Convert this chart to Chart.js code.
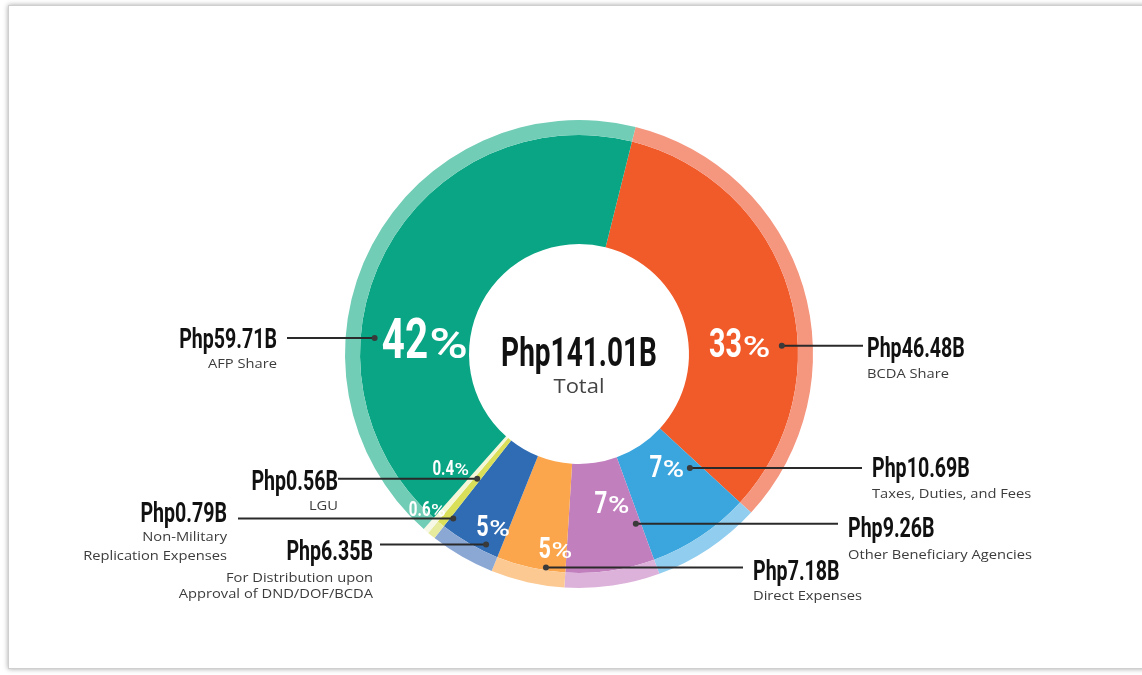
<!DOCTYPE html>
<html>
<head>
<meta charset="utf-8">
<title>Php141.01B Total</title>
<script src="https://cdn.jsdelivr.net/npm/chart.js@4/dist/chart.umd.min.js"></script>
<style>
  html, body { margin: 0; padding: 0; background: #fff; overflow: hidden; }
  .frame {
    position: absolute; left: 8px; top: 5px; width: 1150px; height: 662px;
    border: 1px solid #cfcfcf; box-shadow: 0 0 5px rgba(0,0,0,0.35); background: #fff;
  }
  #chart { position: absolute; left: 0; top: 0; }
</style>
</head>
<body>
<div class="frame"></div>
<canvas id="chart" width="1142" height="675"></canvas>
<script>
// ── Data (clockwise, starting at the AFP/BCDA boundary) ─────────────
const categories = ['BCDA Share', 'Taxes, Duties, and Fees', 'Other Beneficiary Agencies', 'Direct Expenses',
  'For Distribution upon Approval of DND/DOF/BCDA', 'Non-Military Replication Expenses', 'LGU', 'AFP Share'];
const amounts = [46.48, 10.69, 9.26, 7.18, 6.35, 0.79, 0.56, 59.71];   // Php billions
const pctLabels = ['33%', '7%', '7%', '5%', '5%', '0.6%', '0.4%', '42%'];
const valueLabels = ['Php46.48B', 'Php10.69B', 'Php9.26B', 'Php7.18B', 'Php6.35B', 'Php0.79B', 'Php0.56B', 'Php59.71B'];
const descLines = [
  ['BCDA Share'],
  ['Taxes, Duties, and Fees'],
  ['Other Beneficiary Agencies'],
  ['Direct Expenses'],
  ['For Distribution upon', 'Approval of DND/DOF/BCDA'],
  ['Non-Military', 'Replication Expenses'],
  ['LGU'],
  ['AFP Share']
];
const totalLabel = 'Php141.01B';
const totalCaption = 'Total';

// ── Colours ─────────────────────────────────────────────────────────
const COLORS = ['#f15a29', '#3ba5de', '#c17fbe', '#fba64c', '#2f6cb3', '#d9df59', '#f4f6d8', '#0aa584'];
const LIGHT  = ['#f5967f', '#90cdee', '#dcb1da', '#fcc993', '#8ba8d5', '#e7eb9e', '#f7f8e6', '#71cdb6'];

// ── Annotation layout (polar: deg clockwise from top, px from centre) ──
// pct: [angle, radius, digit font size]; dot: leader end; callout text position
const LAYOUT = [
  { pct: [86.1, 161, 40],   dot: [87.7, 203],  side: 'R', lineX: 863, textX: 867, textY: 357, descY: [378] },
  { pct: [141.8, 142, 31],  dot: [135.8, 159], side: 'R', lineX: 862, textX: 872, textY: 477, descY: [498] },
  { pct: [167.5, 152, 31],  dot: [161.5, 179], side: 'R', lineX: 838, textX: 848, textY: 537, descY: [559] },
  { pct: [187, 195, 30],    dot: [188.8, 216], side: 'R', lineX: 743, textX: 753, textY: 580, descY: [600] },
  { pct: [206.6, 192, 30],  dot: [206, 212],   side: 'L', lineX: 380, textX: 373, textY: 560, descY: [582, 598] },
  { pct: [224.4, 217, 21],  dot: [217.4, 207], side: 'L', lineX: 238, textX: 227, textY: 522, descY: [541, 560] },
  { pct: [228.6, 171, 21],  dot: [219.2, 161], side: 'L', lineX: 338, textX: 338, textY: 490, descY: [510] },
  { pct: [275.9, 155, 56],  dot: [274.5, 205], side: 'L', lineX: 287, textX: 277, textY: 348, descY: [368] }
];

const CONDENSE = 0.70;
const BIG_FONT = 'Roboto, "Liberation Sans", sans-serif';
const SMALL_FONT = '"Open Sans", "DejaVu Sans", sans-serif';

function polar(cx, cy, deg, r) {
    const a = deg * Math.PI / 180;
    return { x: cx + r * Math.sin(a), y: cy - r * Math.cos(a) };
}

// draw text squeezed / stretched horizontally by sx
function drawScaled(ctx, text, x, y, font, align, sx) {
    ctx.save();
    ctx.font = font;
    const w = ctx.measureText(text).width * sx;
    let left = x;
    if (align === 'right') left = x - w;
    else if (align === 'center') left = x - w / 2;
    ctx.translate(left, y);
    ctx.scale(sx, 1);
    ctx.textAlign = 'left';
    ctx.fillText(text, 0, 0);
    ctx.restore();
    return w;
}

const bold = size => `bold ${size}px ${BIG_FONT}`;
const medium = size => `500 ${size}px ${BIG_FONT}`;

function drawPct(ctx, text, cx, cy, size) {
    const num = text.replace('%', '');
    const pSize = size * 0.75, pScale = 1.25;
    ctx.font = bold(size);
    const wNum = ctx.measureText(num).width * 0.72;
    ctx.font = medium(pSize);
    const wP = ctx.measureText('%').width * pScale;
    const gap = size * 0.02;
    const left = cx - (wNum + gap + wP) / 2;
    const base = cy + size * 0.71 / 2;
    drawScaled(ctx, num, left, base, bold(size), 'left', 0.72);
    drawScaled(ctx, '%', left + wNum + gap, base, medium(pSize), 'left', pScale);
}

const calloutPlugin = {
    id: 'callouts',
    afterDatasetsDraw(chart) {
        const ctx = chart.ctx;
        const meta = chart.getDatasetMeta(1);
        const cx = meta.data[0].x, cy = meta.data[0].y;

        ctx.save();
        ctx.textBaseline = 'alphabetic';

        // Centre total
        ctx.fillStyle = '#111';
        drawScaled(ctx, totalLabel, cx, cy + 12, bold(40), 'center', CONDENSE);
        ctx.fillStyle = '#444';
        drawScaled(ctx, totalCaption, cx, cy + 39, `20px ${SMALL_FONT}`, 'center', 1.1);

        LAYOUT.forEach((L, i) => {
            // percentage inside the slice
            const p = polar(cx, cy, L.pct[0], L.pct[1]);
            ctx.fillStyle = '#ffffff';
            drawPct(ctx, pctLabels[i], p.x, p.y, L.pct[2]);

            // leader line + dot
            const d = polar(cx, cy, L.dot[0], L.dot[1]);
            ctx.strokeStyle = '#2a2a2a';
            ctx.lineWidth = 2;
            ctx.beginPath();
            ctx.moveTo(d.x, d.y);
            ctx.lineTo(L.lineX, d.y);
            ctx.stroke();
            ctx.fillStyle = '#3a3a3a';
            ctx.beginPath();
            ctx.arc(d.x, d.y, 3, 0, Math.PI * 2);
            ctx.fill();

            // value + description
            const align = L.side === 'R' ? 'left' : 'right';
            ctx.fillStyle = '#111';
            drawScaled(ctx, valueLabels[i], L.textX, L.textY, bold(28), align, CONDENSE);
            ctx.fillStyle = '#3c3c3c';
            descLines[i].forEach((line, k) =>
                drawScaled(ctx, line, L.textX, L.descY[k], `13px ${SMALL_FONT}`, align, 1.13));
        });
        ctx.restore();
    }
};

new Chart(document.getElementById('chart'), {
    type: 'doughnut',
    data: {
        labels: categories,
        datasets: [
            { data: amounts, backgroundColor: LIGHT, borderWidth: 0, weight: 15 },
            { data: amounts, backgroundColor: COLORS, borderWidth: 0, weight: 109 }
        ]
    },
    options: {
        responsive: false,
        animation: false,
        rotation: 14,
        cutout: '47%',
        layout: { padding: { left: 345, right: 329, top: 120, bottom: 87 } },
        plugins: { legend: { display: false }, tooltip: { enabled: false } },
        events: []
    },
    plugins: [calloutPlugin]
});
</script>
</body>
</html>
